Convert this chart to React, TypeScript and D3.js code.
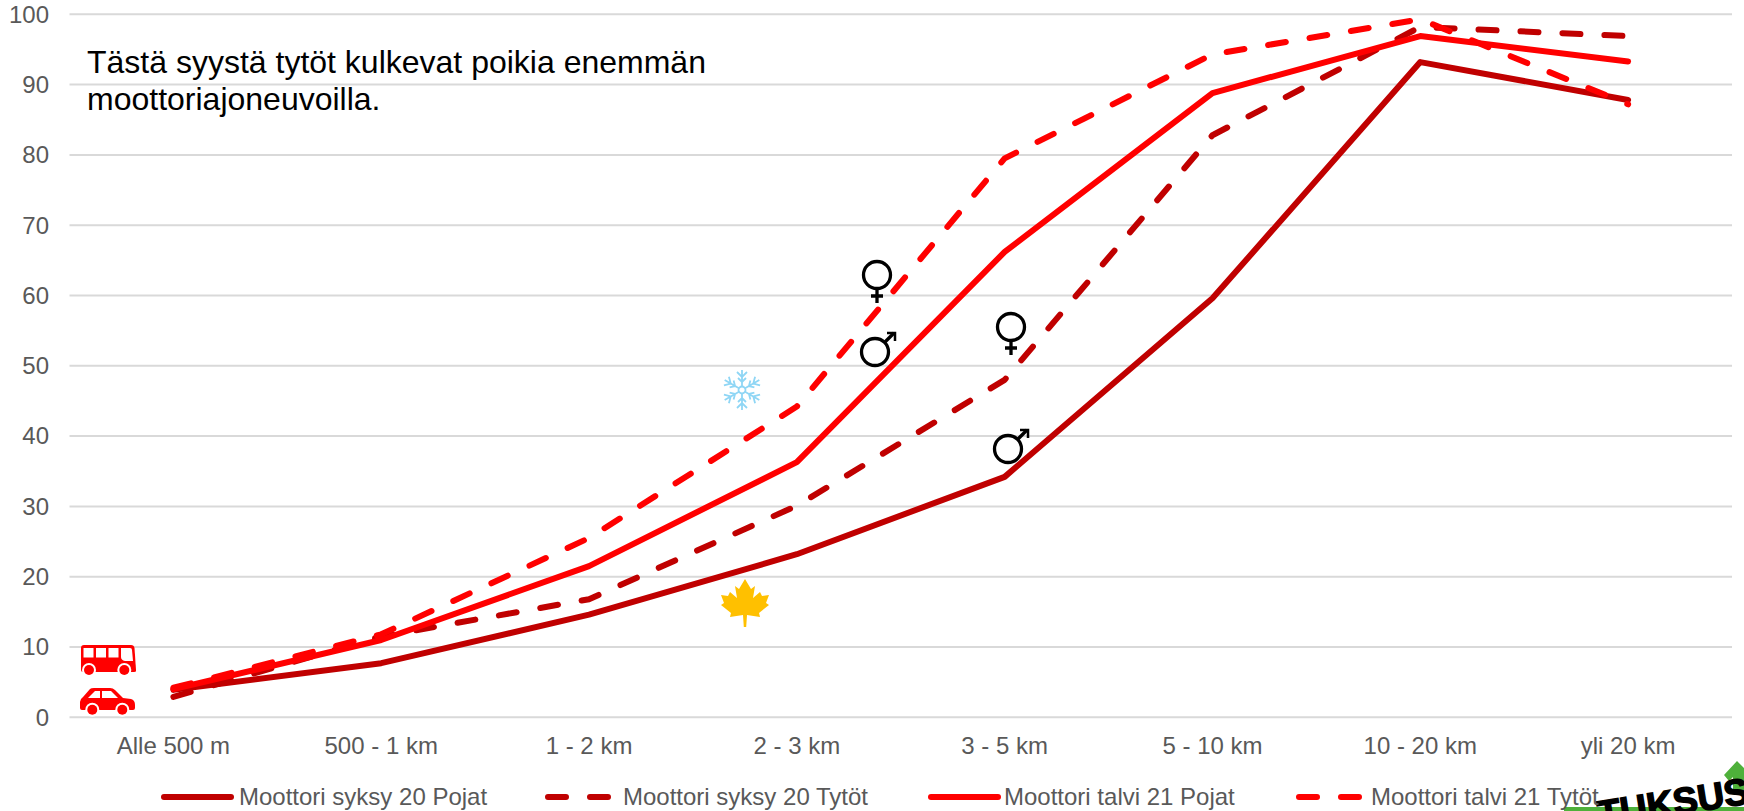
import React from "react"
import * as d3 from "d3"

const categories = ["Alle 500 m", "500 - 1 km", "1 - 2 km", "2 - 3 km", "3 - 5 km", "5 - 10 km", "10 - 20 km", "yli 20 km"]
const yTicks = [0, 10, 20, 30, 40, 50, 60, 70, 80, 90, 100]

const syksyPojat = [3.9, 7.7, 14.6, 23.2, 34.2, 59.6, 93.2, 87.8]
const syksyTytot = [2.9, 11.5, 16.8, 30.1, 48, 82.8, 98.2, 96.9]
const talviPojat = [4, 11, 21.5, 36.3, 66.2, 88.8, 96.9, 93.3]
const talviTytot = [4.2, 11.8, 25.5, 44.2, 79.5, 94.3, 99.3, 87.2]

const DARK = "#c00000"
const RED = "#ff0000"
const GREEN = "#4eb03a"
const DASH = "18 24"

const series = [
  { name: "Moottori syksy 20 Pojat", values: syksyPojat, color: DARK, dash: undefined, legendX: 164, textX: 239 },
  { name: "Moottori syksy 20 Tytöt", values: syksyTytot, color: DARK, dash: DASH, legendX: 548, textX: 623 },
  { name: "Moottori talvi 21 Pojat", values: talviPojat, color: RED, dash: undefined, legendX: 931, textX: 1004 },
  { name: "Moottori talvi 21 Tytöt", values: talviTytot, color: RED, dash: DASH, legendX: 1299, textX: 1371 },
]

const font = "'Liberation Sans', Arial, sans-serif"

const Female = ({ x, y }: { x: number; y: number }) => (
  <g transform={`translate(${x},${y})`} fill="none" stroke="#000" strokeWidth={3.3}>
    <circle r={13.5} />
    <path d="M0,13.5V28M-6,21H6" />
  </g>
)

const Male = ({ x, y }: { x: number; y: number }) => (
  <g transform={`translate(${x},${y})`} fill="none" stroke="#000" strokeWidth={3.3}>
    <circle r={13.5} />
    <path d="M10,-10L19,-19" />
    <path d="M12,-19H20V-11" strokeWidth={2.5} />
  </g>
)

const Snowflake = ({ x, y }: { x: number; y: number }) => (
  <g transform={`translate(${x},${y})`} fill="none" stroke="#8fd6f5" strokeWidth={1.8}>
    <circle r={3.5} />
    {d3.range(6).map((i) => (
      <path key={i} transform={`rotate(${i * 60})`} d="M0,-3.5V-20M-5,-18L0,-13L5,-18M-4,-12L0,-8L4,-12" />
    ))}
  </g>
)

const Leaf = ({ x, y }: { x: number; y: number }) => (
  <path
    transform={`translate(${x},${y})`}
    fill="#ffc000"
    d="M0,-24L6,-14L10,-17L8,-5L15,-11L17,-7L24,-8L21,0L24,2L14,10L15,14L2,12L1.2,24H-1.2L-2,12L-15,14L-14,10L-24,2L-21,0L-24,-8L-17,-7L-15,-11L-8,-5L-10,-17L-6,-14Z"
  />
)

const Bus = ({ x, y }: { x: number; y: number }) => (
  <g transform={`translate(${x},${y})`}>
    <path fill={RED} d="M3,0H50Q53,0 53.5,3L55,25V26Q55,27 53,27H2Q0,27 0,25V3Q0,0 3,0Z" />
    <g fill="#fff">
      <rect x={2.5} y={3} width={10} height={9.5} />
      <rect x={15} y={3} width={10} height={9.5} />
      <rect x={27.5} y={3} width={10} height={9.5} />
      <path d="M40,3H49Q51,3 51,5L52,16H44Q40,15 40,12Z" />
    </g>
    <circle cx={8} cy={25} r={7} fill="#fff" />
    <circle cx={8} cy={25} r={5} fill={RED} />
    <circle cx={43.3} cy={25} r={7} fill="#fff" />
    <circle cx={43.3} cy={25} r={5} fill={RED} />
  </g>
)

const Car = ({ x, y }: { x: number; y: number }) => (
  <g transform={`translate(${x},${y})`}>
    <path fill={RED} d="M10,1Q11,0 14,0H30Q33,0 35,2L43,10L51,11Q55,12 55,17V20Q55,22 53,22H2Q0,22 0,20V14Q0,11 3,9Z" />
    <g fill="#fff">
      <path d="M8,10L15,3H20V10Z" />
      <path d="M22,3H31L38,10H22Z" />
    </g>
    <circle cx={12.3} cy={21.7} r={7} fill="#fff" />
    <circle cx={12.3} cy={21.7} r={5} fill={RED} />
    <circle cx={42.3} cy={21.7} r={7} fill="#fff" />
    <circle cx={42.3} cy={21.7} r={5} fill={RED} />
  </g>
)

// logo cut off by the bottom right corner of the slide
const Logo = () => (
  <g>
    <rect x={1564} y={807} width={180} height={4} fill={GREEN} />
    <path fill={GREEN} d="M1737,761L1751,775L1744,781V790H1733V777L1729,781L1724,775Z" />
    <text
      transform="translate(1600,827) rotate(-9)"
      fontSize={37}
      fontWeight="bold"
      fill="#000"
      stroke="#000"
      strokeWidth={1.5}
    >
      TUKSUS
    </text>
  </g>
)

export default function App() {
  const width = 1744
  const height = 811

  const x = d3.scaleBand<string>().domain(categories).range([69.5, 1732])
  const y = d3.scaleLinear().domain([0, 100]).range([717.3, 14.3])
  const cx = (c: string) => (x(c) as number) + x.bandwidth() / 2

  const line = d3
    .line<number>()
    .x((_, i) => cx(categories[i]))
    .y((d) => y(d))

  return (
    <svg
      width={width}
      height={height}
      style={{ position: "absolute", left: 0, top: 0, background: "#fff" }}
      fontFamily={font}
    >
      {yTicks.map((t) => (
        <g key={t}>
          <line x1={69.5} x2={1732} y1={y(t)} y2={y(t)} stroke="#d9d9d9" strokeWidth={2} />
          <text x={49} y={y(t) + 8.3} textAnchor="end" fontSize={24} fill="#595959">
            {t}
          </text>
        </g>
      ))}
      {categories.map((c) => (
        <text key={c} x={cx(c)} y={754} textAnchor="middle" fontSize={24} fill="#595959">
          {c}
        </text>
      ))}

      {series.map((s) => (
        <path
          key={s.name}
          d={line(s.values) as string}
          fill="none"
          stroke={s.color}
          strokeWidth={6}
          strokeLinecap="round"
          strokeLinejoin="round"
          strokeDasharray={s.dash}
        />
      ))}

      <Logo />

      {series.map((s) => (
        <g key={s.name}>
          <line
            x1={s.legendX}
            x2={s.legendX + 67}
            y1={797}
            y2={797}
            stroke={s.color}
            strokeWidth={6}
            strokeLinecap="round"
            strokeDasharray={s.dash}
          />
          <text x={s.textX} y={805} fontSize={24} fill="#595959">
            {s.name}
          </text>
        </g>
      ))}

      <text fontSize={32} fill="#000">
        <tspan x={87} y={73}>Tästä syystä tytöt kulkevat poikia enemmän</tspan>
        <tspan x={87} y={110}>moottoriajoneuvoilla.</tspan>
      </text>

      <Female x={877} y={275} />
      <Male x={875} y={352} />
      <Female x={1011} y={327} />
      <Male x={1008} y={449} />
      <Snowflake x={742} y={390} />
      <Leaf x={745} y={603} />
      <Bus x={81} y={645} />
      <Car x={80} y={688} />
    </svg>
  )
}
